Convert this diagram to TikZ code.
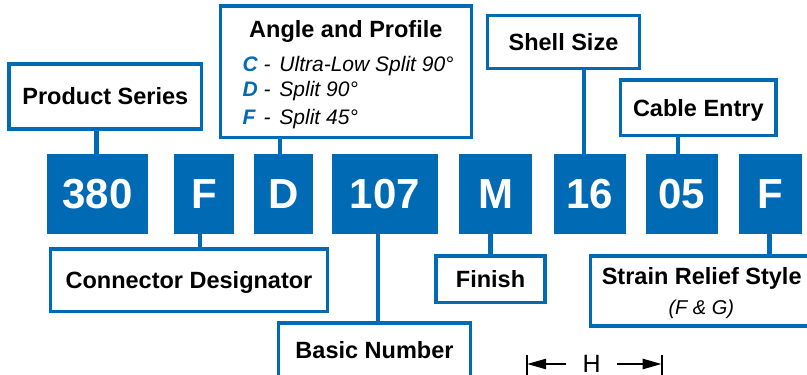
\documentclass[tikz,border=0pt]{standalone}
\usepackage{fontspec}
\setmainfont{Liberation Sans}
\usetikzlibrary{arrows.meta}
\definecolor{mblue}{RGB}{0,106,180}
\begin{document}
\begin{tikzpicture}[x=1pt,y=-1pt,
  code/.style={fill=mblue,draw=none,minimum height=80pt,inner sep=0pt,text=white,
    font=\fontsize{42}{42}\selectfont\bfseries},
  lbl/.style={draw=mblue,line width=3.4pt,fill=white,inner sep=0pt,
    text height=16.8pt,text depth=0pt,font=\fontsize{23.5}{26}\selectfont\bfseries},
  conn/.style={draw=mblue,line width=4.6pt},
  apitem/.style={anchor=base west,inner sep=0pt,font=\fontsize{21}{24}\selectfont\itshape},
  dimline/.style={draw=black,line width=2.4pt},
  dimarrow/.style={draw=black,line width=2.4pt,-{Triangle[length=19pt,width=10pt]}},
]
\useasboundingbox (0,0) rectangle (807,375);

% code boxes
\node[code,minimum width=101pt]  (c380) at (97.5,194)  {380};
\node[code,minimum width=60pt]   (cF)   at (204,194)   {F};
\node[code,minimum width=59pt]   (cD)   at (283.5,194) {D};
\node[code,minimum width=106pt]  (c107) at (385,194)   {107};
\node[code,minimum width=73pt]   (cM)   at (495.5,194) {M};
\node[code,minimum width=72pt]   (c16)  at (590,194)   {16};
\node[code,minimum width=72pt]   (c05)  at (682,194)   {05};
\node[code,minimum width=63.5pt] (cF2)  at (770.7,194) {F};

% label boxes above
\node[lbl,minimum width=192.6pt,minimum height=65pt] (ps) at (105.3,96.5) {Product Series};
\node[lbl,minimum width=250.9pt,minimum height=131.6pt] (ap) at (346.2,71.8) {};
\node[anchor=base,inner sep=0pt,font=\fontsize{23.5}{26}\selectfont\bfseries] (aptitle) at (345.8,37.3) {Angle and Profile};
\node[apitem] (apC) at (242.3,71) {\makebox[21pt][l]{\color{mblue}\bfseries C}-\hspace{9pt}Ultra-Low Split 90°};
\node[apitem] (apD) at (242.3,96.7) {\makebox[21pt][l]{\color{mblue}\bfseries D}-\hspace{9pt}Split 90°};
\node[apitem] (apF) at (242.3,124) {\makebox[21pt][l]{\color{mblue}\bfseries F}-\hspace{9pt}Split 45°};
\node[lbl,minimum width=151.6pt,minimum height=52.6pt] (ss) at (563.5,42) {Shell Size};
\node[lbl,minimum width=155.3pt,minimum height=55.6pt] (ce) at (698.3,107.8) {Cable Entry};

% label boxes below
\node[lbl,minimum width=276.6pt,minimum height=62.6pt] (cd) at (189,280.3) {Connector Designator};
\node[lbl,minimum width=192.2pt,minimum height=54pt] (bn) at (374.5,349.8) {Basic Number};
\node[lbl,minimum width=109pt,minimum height=46.3pt] (fi) at (490.5,279.2) {Finish};
\node[lbl,minimum width=221.6pt,minimum height=70pt] (sr) at (701.5,291) {};
\node[anchor=base,inner sep=0pt,font=\fontsize{23.5}{26}\selectfont\bfseries] (srt) at (701.7,284) {Strain Relief Style};
\node[anchor=base,inner sep=0pt,font=\fontsize{20}{22}\selectfont\itshape] (srs) at (701.3,314.5) {(F \& G)};

% connectors
\draw[conn] ([xshift=-1pt]c380.north) -- ([xshift=-1pt]c380.north |- ps.south);
\draw[conn] ([xshift=-3.5pt]cD.north) -- ([xshift=-3.5pt]cD.north |- ap.south);
\draw[conn] ([xshift=-6pt]c16.north) -- ([xshift=-6pt]c16.north |- ss.south);
\draw[conn] ([xshift=-4pt]c05.north) -- ([xshift=-4pt]c05.north |- ce.south);
\draw[conn] ([xshift=-4pt]cF.south) -- ([xshift=-4pt]cF.south |- cd.north);
\draw[conn] ([xshift=-7pt]c107.south) -- ([xshift=-7pt]c107.south |- bn.north);
\draw[conn] ([xshift=-5pt]cM.south) -- ([xshift=-5pt]cM.south |- fi.north);
\draw[conn] ([xshift=-1pt]cF2.south) -- ([xshift=-1pt]cF2.south |- sr.north);

% dimension H
\node[inner xsep=16pt,inner ysep=0pt,text height=18pt,text depth=0pt,font=\fontsize{25}{28}\selectfont] (H) at (591.7,363.5) {H};
\coordinate (hl) at (527,364);
\coordinate (hr) at (661.7,364);
\draw[dimline] (527,355) -- (527,380);
\draw[dimline] (661.7,355) -- (661.7,380);
\draw[dimarrow] (H.west |- hl) -- (hl);
\draw[dimarrow] (H.east |- hr) -- (hr);
\end{tikzpicture}
\end{document}
